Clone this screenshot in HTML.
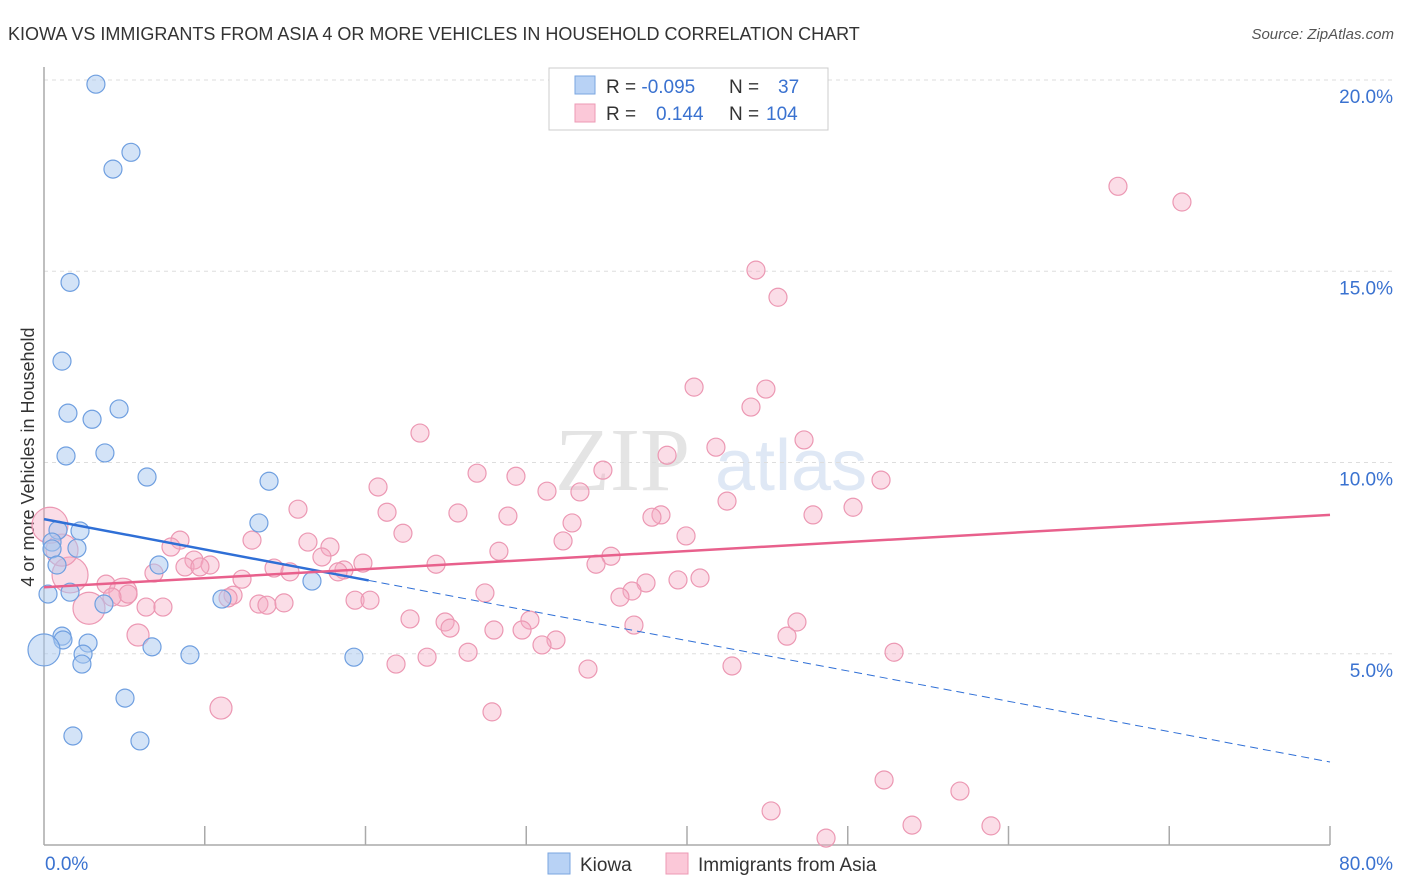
<!DOCTYPE html>
<html><head><meta charset="utf-8"><style>
body{margin:0;background:#fff;font-family:"Liberation Sans",sans-serif;}
#wrap{position:relative;width:1406px;height:892px;overflow:hidden}
</style></head><body>
<div id="wrap">
<svg id="svg" width="1406" height="892" xmlns="http://www.w3.org/2000/svg">
<text x="8" y="40" font-size="18" fill="#333">KIOWA VS IMMIGRANTS FROM ASIA 4 OR MORE VEHICLES IN HOUSEHOLD CORRELATION CHART</text>
<text x="1394" y="39" font-size="15" fill="#555" font-style="italic" text-anchor="end">Source: ZipAtlas.com</text>
<text x="34" y="457" font-size="18" fill="#333" text-anchor="middle" transform="rotate(-90 34 457)">4 or more Vehicles in Household</text>
<text x="555" y="490" font-size="90" fill="#e4e4e4" font-family="Liberation Serif">ZIP</text>
<text x="715" y="490" font-size="72" fill="#dfe8f5">atlas</text>
<g id="grid"></g><g id="axes"></g><g id="pts"></g><g id="lines"></g>
<g>
<rect x="549" y="68" width="279" height="62" fill="#fff" stroke="#ccc"/>
<rect x="575" y="76" width="20" height="18" fill="#b8d2f5" stroke="#7aa6e0"/>
<rect x="575" y="104" width="20" height="18" fill="#fbc8d8" stroke="#ec9ab5"/>
<text x="606" y="93" font-size="19" fill="#333">R = <tspan fill="#3a72d0">-0.095</tspan><tspan x="729">N =</tspan><tspan x="778" fill="#3a72d0">37</tspan></text>
<text x="606" y="120" font-size="19" fill="#333">R = <tspan x="656" fill="#3a72d0">0.144</tspan><tspan x="729">N =</tspan><tspan x="766" fill="#3a72d0">104</tspan></text>
</g>
<g>
<rect x="548" y="853" width="22" height="21" fill="#b8d2f5" stroke="#7aa6e0"/>
<text x="580" y="871" font-size="19" fill="#333">Kiowa</text>
<rect x="666" y="853" width="22" height="21" fill="#fbc8d8" stroke="#ec9ab5"/>
<text x="698" y="871" font-size="19" fill="#333">Immigrants from Asia</text>
</g>
</svg></div>
<script>
const kiowaX=[3.23,5.41,4.29,1.62,1.12,1.49,2.99,4.67,1.37,3.79,6.41,14.0,13.37,0.87,2.24,0.50,2.05,0.50,0.81,7.15,16.67,1.62,0.25,3.73,11.07,1.12,1.18,2.74,2.43,2.36,6.72,9.08,19.28,0.0,5.04,1.80,5.97];
const kiowaY=[19.89,18.11,17.67,14.71,12.65,11.29,11.13,11.40,10.17,10.25,9.62,9.51,8.42,8.23,8.21,7.92,7.76,7.74,7.32,7.32,6.90,6.61,6.56,6.30,6.43,5.46,5.36,5.28,4.99,4.73,5.18,4.97,4.91,5.10,3.84,2.85,2.72];
const kiowaSize=[9,9,9,9,9,9,9,9,9,9,9,9,9,9,9,9,9,9,9,9,9,9,9,9,9,9,9,9,9,9,9,9,9,16,9,9,9];
const asiaX=[66.81,70.79,44.29,45.66,40.44,44.91,43.98,23.39,47.28,41.80,38.76,34.77,26.94,29.36,52.07,20.78,31.29,33.34,42.49,50.33,15.80,21.34,25.75,28.86,38.38,37.82,47.84,32.85,22.33,12.94,39.94,32.29,8.46,16.42,17.79,28.30,35.27,17.29,7.90,9.33,10.33,8.77,9.70,19.84,14.31,15.30,24.39,34.34,18.66,18.29,6.84,12.32,1.62,1.12,0.37,3.86,39.44,40.81,37.45,36.58,35.83,27.43,11.76,11.45,13.37,13.87,14.93,19.35,20.28,4.91,5.23,4.23,2.80,6.35,7.40,22.77,24.95,25.26,30.23,27.99,29.74,36.70,46.84,31.85,30.98,46.22,5.85,26.38,23.83,21.90,33.84,42.80,52.88,11.01,27.87,52.26,56.98,45.23,54.00,58.91,48.65];
const asiaY=[17.22,16.81,15.03,14.32,11.97,11.92,11.45,10.77,10.59,10.40,10.19,9.80,9.72,9.64,9.54,9.36,9.25,9.23,8.99,8.83,8.78,8.70,8.68,8.60,8.63,8.57,8.63,8.42,8.15,7.97,8.08,7.95,7.97,7.92,7.79,7.68,7.55,7.53,7.79,7.45,7.32,7.27,7.27,7.37,7.24,7.14,7.34,7.34,7.19,7.14,7.11,6.95,7.06,7.71,8.36,6.82,6.93,6.98,6.85,6.64,6.48,6.59,6.53,6.46,6.30,6.27,6.33,6.40,6.40,6.61,6.56,6.48,6.19,6.22,6.22,5.91,5.83,5.67,5.88,5.62,5.62,5.75,5.83,5.36,5.23,5.46,5.49,5.04,4.91,4.73,4.60,4.68,5.04,3.58,3.48,1.70,1.41,0.89,0.52,0.50,0.18];
const asiaBig={52:18,53:16,54:18,69:14,72:16,86:11,93:11};
const kiowaTrend=[8.52,2.17], kiowaSolidEnd=20.2;
const asiaTrend=[6.74,8.63];
const yTicks=[5,10,15,20], yTickLabels=["5.0%","10.0%","15.0%","20.0%"];
const xTicks=[0,10,20,30,40,50,60,70,80];

const NS="http://www.w3.org/2000/svg";
const X0=44,X1=1330,Y0=845,PX=(X1-X0)/80,PY=(845-80)/20;
const sx=v=>X0+v*PX, sy=v=>Y0-v*PY;
function mk(tag,attrs,parent){const e=document.createElementNS(NS,tag);for(const k in attrs)e.setAttribute(k,attrs[k]);parent.appendChild(e);return e;}
const grid=document.getElementById('grid'),axes=document.getElementById('axes'),pts=document.getElementById('pts'),lines=document.getElementById('lines');
yTicks.forEach((t,i)=>{
 const l=mk('line',{x1:X0,x2:1394,y1:sy(t),y2:sy(t),stroke:'#ddd','stroke-dasharray':'4,4'},grid);
 
 
 const tx=mk('text',{x:1393,y:sy(t)+23,'font-size':19,fill:'#3a72d0','text-anchor':'end'},axes);
 tx.textContent=yTickLabels[i];
 
 
});
const ya=mk('line',{x1:X0,x2:X0,y1:67,y2:Y0,stroke:'#aaa','stroke-width':1.5},axes);


const xa=mk('line',{x1:X0,x2:X1,y1:Y0,y2:Y0,stroke:'#aaa','stroke-width':1.5},axes);


xTicks.forEach(t=>{
 if(t===0)return;
 const l=mk('line',{x1:sx(t),x2:sx(t),y1:Y0-19,y2:Y0,stroke:'#aaa','stroke-width':1.5},axes);
 
 
});
const xl0=mk('text',{x:45,y:870,'font-size':19,fill:'#3a72d0'},axes);xl0.textContent='0.0%';


const xl1=mk('text',{x:1393,y:870,'font-size':19,fill:'#3a72d0','text-anchor':'end'},axes);xl1.textContent='80.0%';


asiaX.forEach((v,i)=>{
 const c=mk('circle',{cx:sx(v),cy:sy(asiaY[i]),r:asiaBig[i]||9,fill:'rgba(246,170,196,0.4)',stroke:'#ec98b3','stroke-width':1.2},pts);
 
 
});
kiowaX.forEach((v,i)=>{
 const c=mk('circle',{cx:sx(v),cy:sy(kiowaY[i]),r:kiowaSize[i],fill:'rgba(168,200,240,0.5)',stroke:'#6f9fe0','stroke-width':1.2},pts);
 
 
});
const kv=x=>kiowaTrend[0]+(kiowaTrend[1]-kiowaTrend[0])*x/80;
const l1=mk('line',{x1:sx(0),y1:sy(kv(0)),x2:sx(kiowaSolidEnd),y2:sy(kv(kiowaSolidEnd)),stroke:'#2f6fd6','stroke-width':2.5},lines);


const l2=mk('line',{x1:sx(kiowaSolidEnd),y1:sy(kv(kiowaSolidEnd)),x2:sx(80),y2:sy(kv(80)),stroke:'#2f6fd6','stroke-width':1,'stroke-dasharray':'8,5'},lines);


const l3=mk('line',{x1:sx(0),y1:sy(asiaTrend[0]),x2:sx(80),y2:sy(asiaTrend[1]),stroke:'#e8608c','stroke-width':2.5},lines);


</script>
</body></html>
